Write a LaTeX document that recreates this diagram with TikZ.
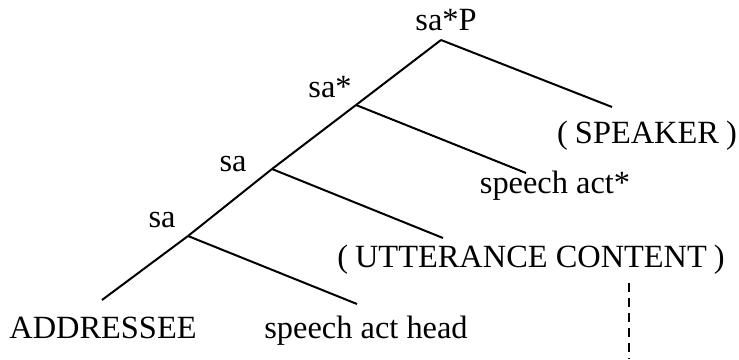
\documentclass[tikz,border=0pt]{standalone}
\usepackage{fontspec}
\setmainfont{Liberation Serif}
\begin{document}
\begin{tikzpicture}[x=0.5pt,y=-0.5pt,
  lbl/.style={inner sep=0pt,anchor=base,font=\fontsize{16.2pt}{19pt}\selectfont},
  branch/.style={line width=1pt},
  guide/.style={line width=1pt,dash pattern=on 4.5pt off 3pt}]
\useasboundingbox (0,0) rectangle (739,359);
% tree vertices
\coordinate (A) at (441,40);
\coordinate (B) at (356,105);
\coordinate (C) at (272,169);
\coordinate (D) at (188,236);
\coordinate (Aspk) at (612,107);
\coordinate (Bsa) at (526,173);
\coordinate (Cutt) at (443,238);
\coordinate (Dadr) at (102,300);
\coordinate (Dsah) at (357,304);
\coordinate (gtop) at (629,283);
\coordinate (gbot) at (629,359);
% labels
\node[lbl] (lA) at (446,30) {sa*P};
\node[lbl] (lB) at (330,97) {sa*};
\node[lbl] (lC) at (233,171) {sa};
\node[lbl] (lD) at (162,227) {sa};
\node[lbl] (spk) at (647,143) {(\hspace{3.5pt}SPEAKER\hspace{3.5pt})};
\node[lbl] (sas) at (555,193) {speech act*};
\node[lbl] (utt) at (531,267) {(\hspace{3.5pt}UTTERANCE CONTENT\hspace{3.5pt})};
\node[lbl] (adr) at (103,338) {ADDRESSEE};
\node[lbl] (sah) at (366,338) {speech act head};
% branches
\draw[branch] (A) -- (B);
\draw[branch] (A) -- (Aspk);
\draw[branch] (B) -- (C);
\draw[branch] (B) -- (Bsa);
\draw[branch] (C) -- (D);
\draw[branch] (C) -- (Cutt);
\draw[branch] (D) -- (Dadr);
\draw[branch] (D) -- (Dsah);
\draw[guide] (gtop) -- (gbot);
\end{tikzpicture}
\end{document}
